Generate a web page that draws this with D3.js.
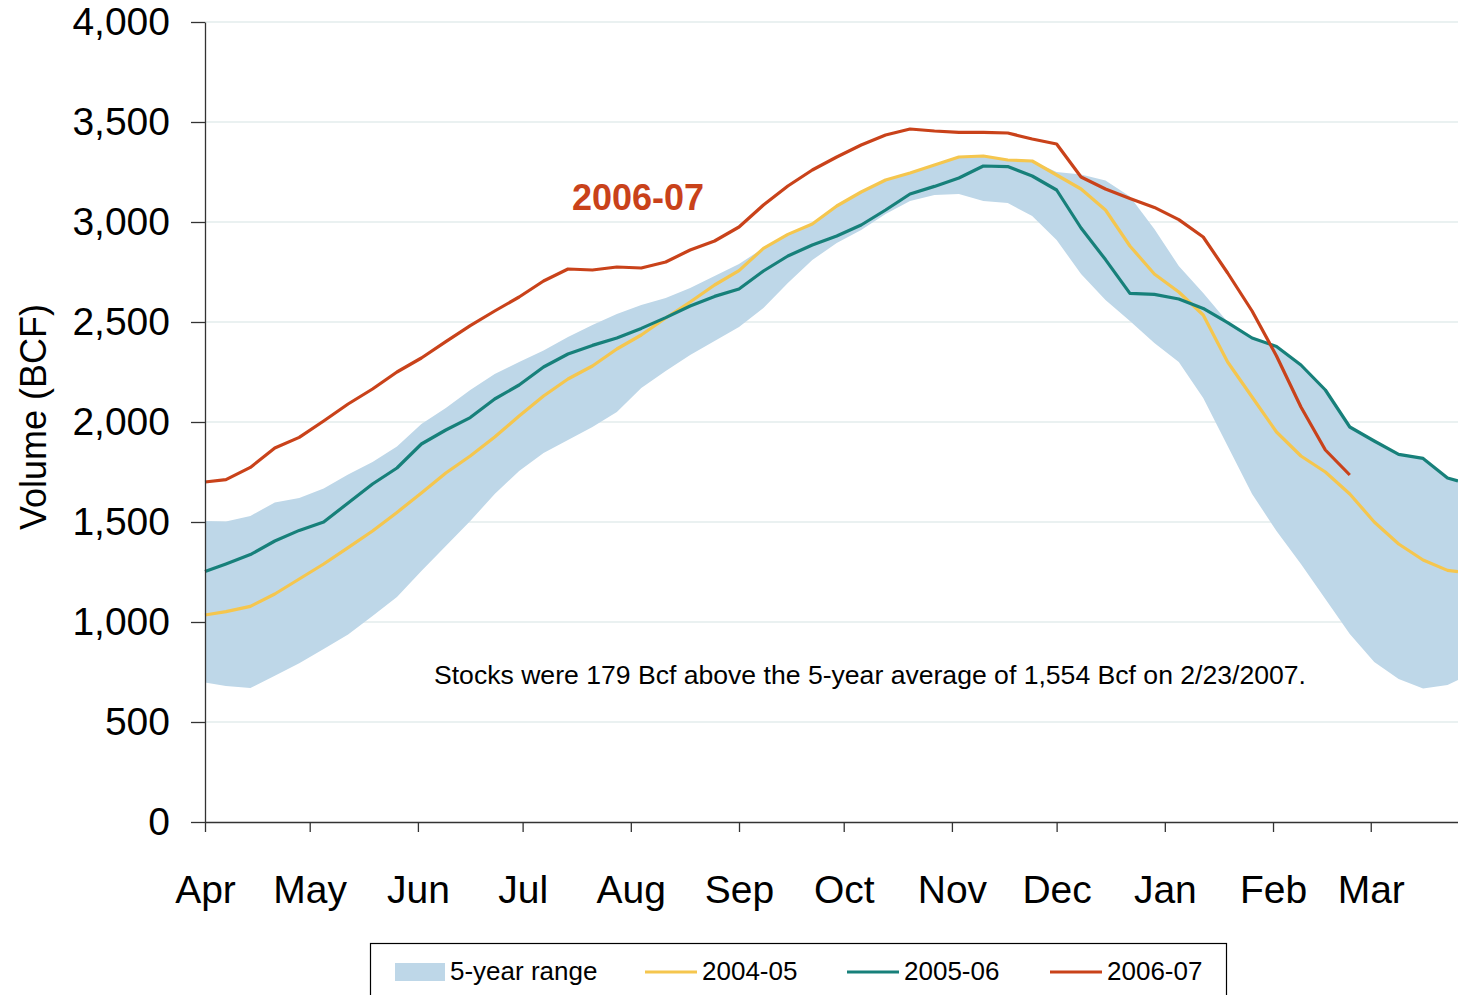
<!DOCTYPE html>
<html>
<head>
<meta charset="utf-8">
<script src="https://cdn.jsdelivr.net/npm/d3@7"></script>
<style>
  body { margin: 0; background: #fff; }
  svg { display: block; font-family: "Liberation Sans", Arial, sans-serif; }
</style>
</head>
<body>
<div id="chart"></div>
<script>
// month ticks (days since Apr 1)
const monthLabels = ["Apr", "May", "Jun", "Jul", "Aug", "Sep", "Oct", "Nov", "Dec", "Jan", "Feb", "Mar"];
const monthStartDays = [0, 30, 61, 91, 122, 153, 183, 214, 244, 275, 306, 334];
const yTicks = [0, 500, 1000, 1500, 2000, 2500, 3000, 3500, 4000];

// weekly report days (days since Apr 1)
const weekDays = [0, ...d3.range(6, 357, 7), 359];

// 5-year range, BCF
const rangeLow = [697, 680, 670, 731, 794, 865, 937, 1030, 1125, 1255, 1380, 1505, 1640, 1755, 1845, 1910, 1975, 2050, 2170, 2255,
  2335, 2405, 2475, 2570, 2695, 2810, 2895, 2960, 3040, 3105, 3135, 3140, 3105, 3095, 3030, 2910, 2740, 2610, 2505, 2395,
  2300, 2120, 1880, 1640, 1455, 1290, 1115, 940, 800, 715, 668, 685, 710];
const rangeHigh = [1505, 1502, 1530, 1598, 1620, 1667, 1737, 1800, 1878, 1990, 2070, 2160, 2240, 2300, 2358, 2425, 2485, 2540, 2585, 2620,
  2670, 2730, 2790, 2870, 2940, 2992, 3082, 3152, 3212, 3247, 3287, 3327, 3332, 3312, 3306, 3250, 3237, 3208, 3127, 2965,
  2780, 2645, 2500, 2425, 2382, 2290, 2165, 1980, 1908, 1840, 1820, 1722, 1708];

// weekly storage by season, BCF
const s2004_05 = [1035, 1052, 1078, 1140, 1215, 1290, 1372, 1455, 1548, 1645, 1745, 1830, 1925, 2030, 2130, 2215, 2280, 2365, 2435, 2520,
  2600, 2685, 2757, 2868, 2938, 2990, 3080, 3150, 3210, 3245, 3285, 3325, 3330, 3310, 3305, 3235, 3165, 3060, 2880, 2740,
  2650, 2535, 2300, 2125, 1950, 1830, 1750, 1640, 1500, 1390, 1310, 1258, 1252];
const s2005_06 = [1252, 1290, 1337, 1405, 1458, 1500, 1595, 1690, 1770, 1890, 1960, 2022, 2115, 2185, 2275, 2340, 2383, 2420, 2468, 2522,
  2580, 2628, 2665, 2755, 2830, 2885, 2930, 2985, 3060, 3140, 3178, 3220, 3280, 3277, 3230, 3160, 2970, 2812, 2643, 2638,
  2615, 2568, 2497, 2420, 2378, 2285, 2160, 1975, 1905, 1838, 1818, 1720, 1705];
const s2006_07 = [1700, 1712, 1773, 1870, 1923, 2005, 2090, 2165, 2250, 2320, 2402, 2482, 2555, 2625, 2705, 2765, 2760, 2775, 2770, 2800,
  2860, 2905, 2975, 3085, 3180, 3260, 3325, 3385, 3435, 3465, 3455, 3448, 3448, 3445, 3415, 3390, 3225, 3165, 3118, 3073,
  3012, 2925, 2745, 2555, 2330, 2075, 1860, 1735];

const seriesNames = ["2004-05", "2005-06", "2006-07"];
const seriesColors = ["#f5c64e", "#17807a", "#c9421a"];
const bandColor = "#bed7e8";

const width = 1458, height = 995;
const plot = { left: 205, right: 1458, top: 22, bottom: 822 };

const svg = d3.select("#chart").append("svg")
  .attr("width", width)
  .attr("height", height);

const x = d3.scaleLinear().domain([0, 359]).range([plot.left, plot.right]);
const y = d3.scaleLinear().domain([0, 4000]).range([plot.bottom, plot.top]);

// gridlines
svg.append("g")
  .selectAll("line")
  .data(yTicks.filter(d => d > 0))
  .enter().append("line")
  .attr("x1", plot.left).attr("x2", plot.right)
  .attr("y1", d => y(d)).attr("y2", d => y(d))
  .attr("stroke", "#d5e4e4")
  .attr("stroke-width", 1.2);

// 5-year range band
const band = weekDays.map((d, i) => ({ day: d, lo: rangeLow[i], hi: rangeHigh[i] }));
svg.append("path")
  .datum(band)
  .attr("fill", bandColor)
  .attr("d", d3.area()
    .x(d => x(d.day))
    .y0(d => y(d.lo))
    .y1(d => y(d.hi)));

// season lines
const allSeries = [s2004_05, s2005_06, s2006_07];
const line = d3.line().x(d => x(d.day)).y(d => y(d.v));
allSeries.forEach((vals, k) => {
  svg.append("path")
    .datum(vals.map((v, i) => ({ day: weekDays[i], v: v })))
    .attr("fill", "none")
    .attr("stroke", seriesColors[k])
    .attr("stroke-width", 3.2)
    .attr("stroke-linejoin", "round")
    .attr("d", line);
});

// axes
const yAxis = svg.append("g")
  .attr("transform", `translate(${plot.left},0)`)
  .call(d3.axisLeft(y).tickValues(yTicks).tickFormat(d3.format(",")).tickSize(14).tickSizeOuter(0).tickPadding(21));
yAxis.selectAll("text").attr("font-size", 39).attr("fill", "#000").attr("font-family", "Liberation Sans, Arial, sans-serif");
yAxis.selectAll("line, path").attr("stroke", "#333").attr("stroke-width", 1.3);

const xAxis = svg.append("g")
  .attr("transform", `translate(0,${plot.bottom})`)
  .call(d3.axisBottom(x).tickValues(monthStartDays).tickFormat((d, i) => monthLabels[i]).tickSize(10).tickSizeOuter(0).tickPadding(43));
xAxis.selectAll("text").attr("font-size", 39).attr("fill", "#000").attr("font-family", "Liberation Sans, Arial, sans-serif");
xAxis.selectAll("line, path").attr("stroke", "#333").attr("stroke-width", 1.3);

// axis title
svg.append("text")
  .attr("transform", "translate(46,417) rotate(-90)")
  .attr("text-anchor", "middle")
  .attr("font-size", 36)
  .text("Volume (BCF)");

// annotations
svg.append("text")
  .attr("x", 434).attr("y", 684)
  .attr("font-size", 26)
  .attr("textLength", 872)
  .attr("lengthAdjust", "spacingAndGlyphs")
  .text("Stocks were 179 Bcf above the 5-year average of 1,554 Bcf on 2/23/2007.");

svg.append("text")
  .attr("x", 572).attr("y", 210)
  .attr("font-size", 36)
  .attr("font-weight", "bold")
  .attr("fill", seriesColors[2])
  .text("2006-07");

// legend
const legend = svg.append("g");
legend.append("rect")
  .attr("x", 370.5).attr("y", 943.5)
  .attr("width", 856).attr("height", 70)
  .attr("fill", "#fff")
  .attr("stroke", "#000")
  .attr("stroke-width", 1.2);
legend.append("rect")
  .attr("x", 395).attr("y", 963)
  .attr("width", 50).attr("height", 18)
  .attr("fill", bandColor);
legend.append("text")
  .attr("x", 450).attr("y", 980)
  .attr("font-size", 26)
  .text("5-year range");
const legendX = [645, 847, 1050];
seriesNames.forEach((name, k) => {
  legend.append("line")
    .attr("x1", legendX[k]).attr("x2", legendX[k] + 52)
    .attr("y1", 972).attr("y2", 972)
    .attr("stroke", seriesColors[k])
    .attr("stroke-width", 3);
  legend.append("text")
    .attr("x", legendX[k] + 57).attr("y", 980)
    .attr("font-size", 26)
    .text(name);
});
</script>
</body>
</html>
